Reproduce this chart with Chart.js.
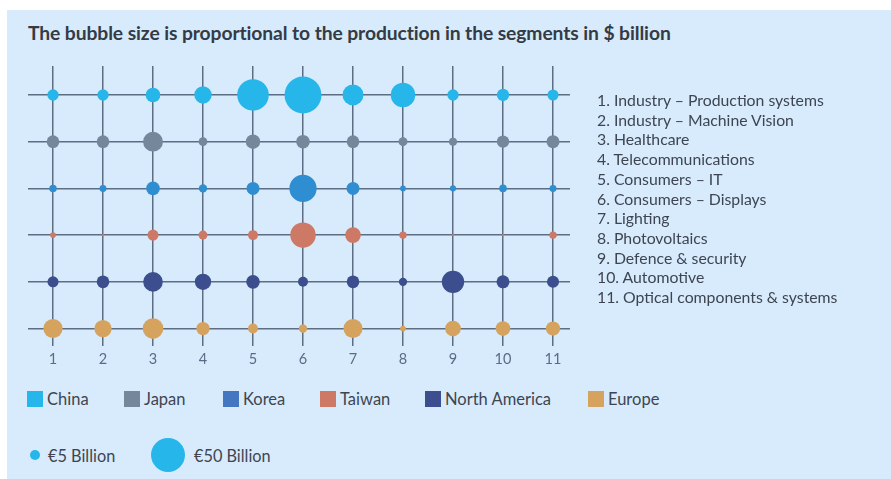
<html lang="en">
<head>
  <meta charset="UTF-8">
  <title>Bubble chart - production by segment</title>
  <script src="https://cdn.jsdelivr.net/npm/chart.js"></script>
  <style>
    body { margin: 0; background: #fff; font-family: Lato, "Noto Sans", sans-serif; }
    .panel { position: absolute; left: 7px; top: 10px; width: 884px; height: 469px; background: #d7ebfd; }
    .title { position: absolute; left: 28px; top: 21px; font-size: 19.3px; font-weight: 700; color: #343b45; white-space: nowrap; letter-spacing: -0.1px; }
    #chartBox { position: absolute; left: 0; top: 0; }
    .segments { position: absolute; left: 597px; top: 90px; font-size: 15.8px; line-height: 19.7px; color: #3e4551; }
    .legend { position: absolute; left: 27px; top: 389px; font-size: 16.5px; color: #3e4551; }
    .legend span.item { position: absolute; white-space: nowrap; display: flex; align-items: center; }
    .legend i { display: inline-block; width: 16px; height: 16px; margin-right: 4px; }
    .sizes { position: absolute; left: 0; top: 438px; font-size: 16.3px; color: #3e4551; }
    .sizes .dot { position: absolute; border-radius: 50%; background: #26b6ea; }
    .sizes .lbl { position: absolute; white-space: nowrap; }
  </style>
</head>

<body>
  <div class="panel"></div>
  <div class="title">The bubble size is proportional to the production in the segments in $ billion</div>
  <div id="chartBox"><canvas id="bubbleChart" width="600" height="373"></canvas></div>
  <div class="segments" id="segments"></div>
  <div class="legend" id="legend"></div>
  <div class="sizes" id="sizes"></div>

  <script>
    // segments 1..11 along the x axis
    const segments = [
      "Industry \u2013 Production systems",
      "Industry \u2013 Machine Vision",
      "Healthcare",
      "Telecommunications",
      "Consumers \u2013 IT",
      "Consumers \u2013 Displays",
      "Lighting",
      "Photovoltaics",
      "Defence & security",
      "Automotive",
      "Optical components & systems"
    ];
    const xTicks = [1, 2, 3, 4, 5, 6, 7, 8, 9, 10, 11];

    // production per region, $ billion
    const china        = [5.6, 5.6, 9.3, 13, 43, 59, 19, 26, 5.6, 6.6, 5.3];
    const japan        = [6.9, 6.9, 17, 3.3, 9, 8, 6.9, 3.5, 2.8, 6.6, 7.3];
    const korea        = [2.4, 2.1, 8, 3, 7.3, 32, 7.3, 1.4, 1.6, 2.5, 2.1];
    const taiwan       = [1.4, 0.25, 5.3, 3.5, 4.3, 28, 10.6, 2.4, 0.25, 0.2, 2.4];
    const northAmerica = [5.3, 6.9, 16.7, 11.6, 8, 4.3, 6.9, 3, 21.7, 7.3, 6.3];
    const europe       = [16, 13, 18.5, 7.7, 4.3, 3, 15.7, 1.4, 10.6, 9.3, 8.9];

    const regions = ["China", "Japan", "Korea", "Taiwan", "North America", "Europe"];
    const regionValues = [china, japan, korea, taiwan, northAmerica, europe];
    const rowOfRegion = [6, 5, 4, 3, 2, 1];
    const bubbleColors = ["#26b6ea", "#74879b", "#2f8dd1", "#ce7866", "#3c4e8e", "#d5a35e"];
    const swatchColors = ["#26b6ea", "#74879b", "#4577c0", "#ce7866", "#3c4e8e", "#d5a35e"];

    // radius so that area is proportional to value, 50bn -> 17px
    function radius(v) {
      return 17 * Math.sqrt(v / 50);
    }

    const datasets = regions.map((name, i) => ({
      label: name,
      data: regionValues[i].map((v, j) => ({ x: xTicks[j], y: rowOfRegion[i], r: radius(v) })),
      backgroundColor: bubbleColors[i],
      borderWidth: 0,
      hoverBorderWidth: 0
    }));

    const gridColor = "#5d6d83";

    new Chart(document.getElementById("bubbleChart"), {
      type: "bubble",
      data: { datasets: datasets },
      options: {
        responsive: false,
        animation: false,
        layout: { padding: { left: 28, right: 30, top: 66, bottom: 0 } },
        plugins: {
          legend: { display: false },
          tooltip: { enabled: false }
        },
        scales: {
          x: {
            type: "linear",
            min: 0.5,
            max: 11.34,
            afterBuildTicks: s => { s.ticks = xTicks.map(v => ({ value: v })); },
            grid: { color: gridColor, lineWidth: 1.5, drawTicks: false },
            border: { display: false },
            ticks: {
              padding: 5,
              color: "#5a6c84",
              font: { family: "Lato", size: 14.5 }
            }
          },
          y: {
            type: "linear",
            min: 0.635,
            max: 6.62,
            afterBuildTicks: s => { s.ticks = rowOfRegion.map(v => ({ value: v })); },
            grid: { color: gridColor, lineWidth: 1.5, drawTicks: false },
            border: { display: false },
            ticks: { display: false }
          }
        }
      }
    });

    // segment list on the right
    document.getElementById("segments").innerHTML =
      segments.map((s, i) => `<div>${i + 1}. ${s.replace("&", "&amp;")}</div>`).join("");

    // region legend
    const legendX = [0, 97, 196, 293, 398, 561];
    document.getElementById("legend").innerHTML = regions.map((r, i) =>
      `<span class="item" style="left:${legendX[i]}px"><i style="background:${swatchColors[i]}"></i>${r}</span>`
    ).join("");

    // bubble size legend
    const sizeKeys = [5, 50];
    const sizeCx = [35, 168];
    const sizeLblX = [48, 194];
    document.getElementById("sizes").innerHTML = sizeKeys.map((v, i) => {
      const r = radius(v);
      return `<div class="dot" style="left:${sizeCx[i] - r}px;top:${17 - r}px;width:${2 * r}px;height:${2 * r}px"></div>` +
        `<div class="lbl" style="left:${sizeLblX[i]}px;top:8px">\u20ac${v} Billion</div>`;
    }).join("");
  </script>
</body>
</html>
